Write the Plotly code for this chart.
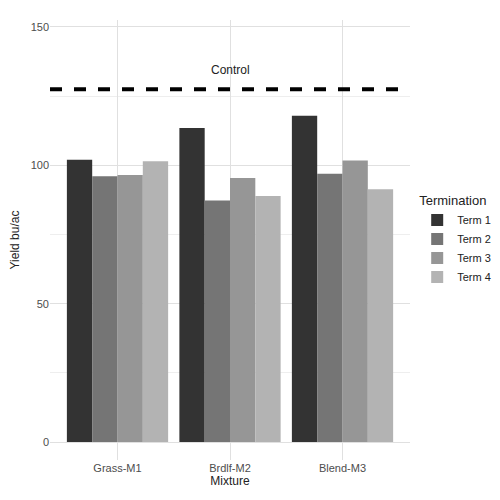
import plotly.graph_objects as go

mixtures = ["Grass-M1", "Brdlf-M2", "Blend-M3"]
terms = ["Term 1", "Term 2", "Term 3", "Term 4"]
yields = {
    "Term 1": [102.0, 113.5, 117.9],
    "Term 2": [96.0, 87.3, 96.9],
    "Term 3": [96.5, 95.4, 101.7],
    "Term 4": [101.5, 88.9, 91.3],
}
colors = ["#333333", "#757575", "#969696", "#b3b3b3"]
control = 127.5

fig = go.Figure()
for t, c in zip(terms, colors):
    fig.add_bar(x=mixtures, y=yields[t], name=t, marker_color=c, marker_line_width=0)

fig.add_shape(type="line", xref="paper", x0=0, x1=1, y0=control, y1=control,
              line=dict(color="black", width=4, dash="dash"))
fig.add_annotation(x=1, y=control + 7, text="Control", showarrow=False,
                   font=dict(size=12, color="#222"))

fig.update_layout(
    width=500, height=500, barmode="group", bargap=0.1, bargroupgap=0,
    plot_bgcolor="white", paper_bgcolor="white",
    margin=dict(l=42, r=95, t=12, b=48),
    font=dict(family="Liberation Sans, Arial", size=11, color="#4d4d4d"),
    legend=dict(title=dict(text="Termination", font=dict(size=13, color="#222")),
                x=1.02, y=0.5, yanchor="middle", font=dict(size=11, color="#222"),
                itemwidth=30, tracegroupgap=0),
    xaxis=dict(title=dict(text="Mixture", font=dict(size=12, color="#222"), standoff=2),
               showgrid=True, gridcolor="#e0e0e0", range=[-0.6, 2.6], ticks="",
               automargin=False, tickfont=dict(color="#4d4d4d")),
    yaxis=dict(title=dict(text="Yield bu/ac", font=dict(size=12, color="#222"), standoff=8),
               range=[-6.5, 152.5], tickvals=[0, 50, 100, 150], showgrid=True,
               gridcolor="#e0e0e0", zeroline=False, automargin=False,
               tickfont=dict(color="#4d4d4d"),
               minor=dict(tickvals=[25, 75, 125], showgrid=True, gridcolor="#eeeeee")),
)
fig.write_html("out.html")
